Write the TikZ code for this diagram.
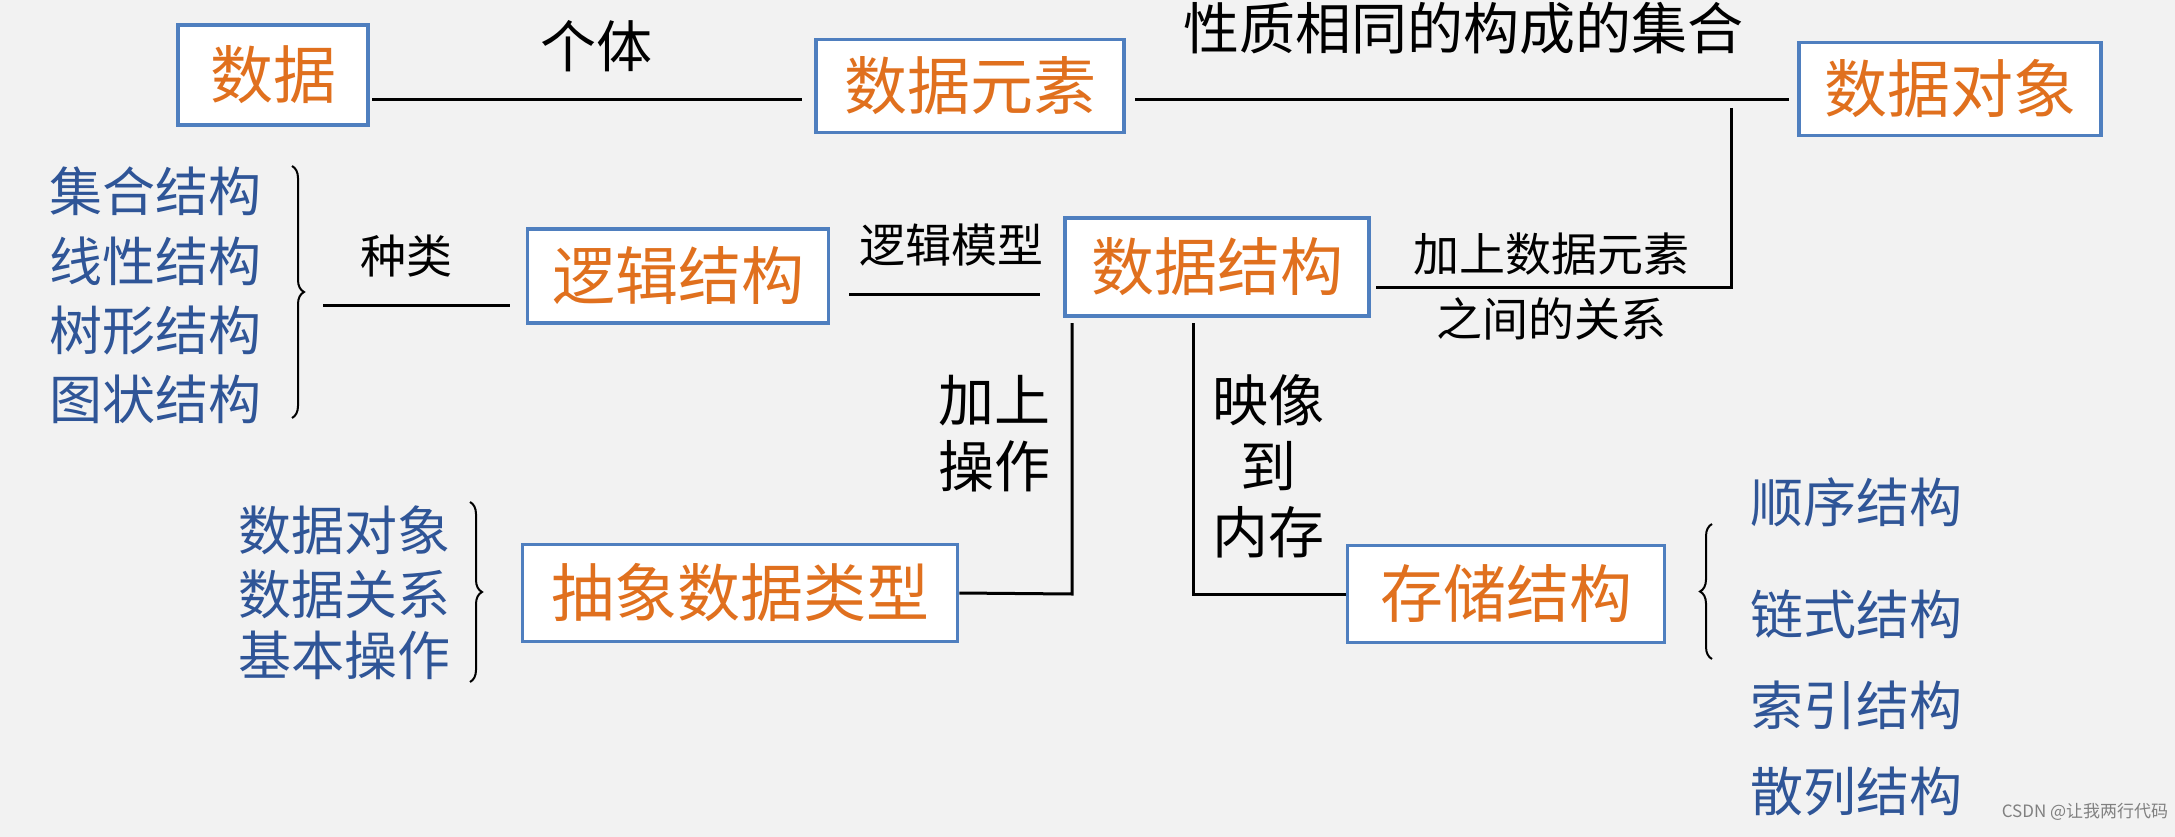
\documentclass[tikz,border=0pt]{standalone}
\usepackage{fontspec}
\setmainfont{Noto Sans CJK SC}
\usetikzlibrary{decorations.pathreplacing}
\definecolor{bg}{HTML}{F2F2F2}
\definecolor{org}{HTML}{E0701E}
\definecolor{blu}{HTML}{2F5597}
\definecolor{bord}{HTML}{4F7FBF}
\begin{document}
\begin{tikzpicture}[x=1pt,y=-1pt,
 box/.style={draw=bord,line width=3.5pt,fill=white,text=org,font=\fontsize{63}{70}\selectfont,inner sep=0pt},
 lab/.style={font=\fontsize{56}{66}\selectfont,text=black,inner sep=0pt},
 slab/.style={font=\fontsize{46}{54}\selectfont,text=black,inner sep=0pt},
 item/.style={font=\fontsize{53}{58}\selectfont,text=blu,inner sep=0pt},
 ln/.style={line width=3pt,black},
 br/.style={draw,line width=2pt,decorate,decoration={brace,amplitude=12pt}}]
\fill[bg] (0,0) rectangle (2175,837);
\useasboundingbox (0,0) rectangle (2175,837);
\node[box,minimum width=190,minimum height=100] (d) at (273,75) {数据};
\node[box,minimum width=308,minimum height=93] (de) at (970,86) {数据元素};
\node[box,minimum width=302,minimum height=93] (do) at (1950,89) {数据对象};
\node[box,minimum width=301,minimum height=94] (lj) at (678,276) {逻辑结构};
\node[box,minimum width=304,minimum height=98] (ds) at (1217,267) {数据结构};
\node[box,minimum width=435,minimum height=97] (adt) at (740,593) {抽象数据类型};
\node[box,minimum width=317,minimum height=97] (cc) at (1506,594) {存储结构};
% labels
\node[lab] (l1) at (596,46) {个体};
\node[lab] (l2) at (1463,28) {性质相同的构成的集合};
\node[slab] (l3) at (1551,254) {加上数据元素};
\node[slab] (l4) at (1551,319) {之间的关系};
\node[slab] (l5) at (951,245) {逻辑模型};
\node[slab] (l6) at (406,256) {种类};
\node[lab,align=center] (l7) at (994,434) {加上\\操作};
\node[lab,align=center] (l8) at (1268,466) {映像\\到\\内存};
% connectors
\coordinate (a1) at (372,100); \coordinate (a2) at (802,100);
\draw[ln] (a1) -- (a2);
\coordinate (b1) at (1135,100); \coordinate (b2) at (1789,100);
\draw[ln] (b1) -- (b2);
\coordinate (c1) at (1731,108); \coordinate (c2) at (1731,287); \coordinate (c3) at (1376,287);
\draw[ln] (c1) -- (c2) -- (c3);
\coordinate (e1) at (849,294); \coordinate (e2) at (1040,294);
\draw[ln] (e1) -- (e2);
\coordinate (f1) at (323,305); \coordinate (f2) at (510,305);
\draw[ln] (f1) -- (f2);
\coordinate (g1) at (1072,323); \coordinate (g2) at (1072,594);
\draw[ln] (g1) -- (g2) -- (adt.east);
\coordinate (h1) at (1193,323); \coordinate (h2) at (1193,594);
\draw[ln] (h1) -- (h2) -- (cc.west);
% lists
\node[item] (s1) at (155,191) {集合结构};
\node[item] (s2) at (155,261) {线性结构};
\node[item] (s3) at (155,330) {树形结构};
\node[item] (s4) at (155,399) {图状结构};
\coordinate (bA) at (292,166); \coordinate (bB) at (292,418);
\draw[br] (bA) -- (bB);
\node[item] (t1) at (344,530) {数据对象};
\node[item] (t2) at (344,594) {数据关系};
\node[item] (t3) at (344,655) {基本操作};
\coordinate (cA) at (470,502); \coordinate (cB) at (470,682);
\draw[br] (cA) -- (cB);
\node[item] (u1) at (1856,502) {顺序结构};
\node[item] (u2) at (1856,614) {链式结构};
\node[item] (u3) at (1856,705) {索引结构};
\node[item] (u4) at (1856,791) {散列结构};
\coordinate (dA) at (1712,659); \coordinate (dB) at (1712,524);
\draw[br] (dA) -- (dB);
\node[font=\fontsize{17}{20}\selectfont,text=gray,inner sep=0pt] (wm) at (2085,812) {CSDN @让我两行代码};
\end{tikzpicture}
\end{document}
